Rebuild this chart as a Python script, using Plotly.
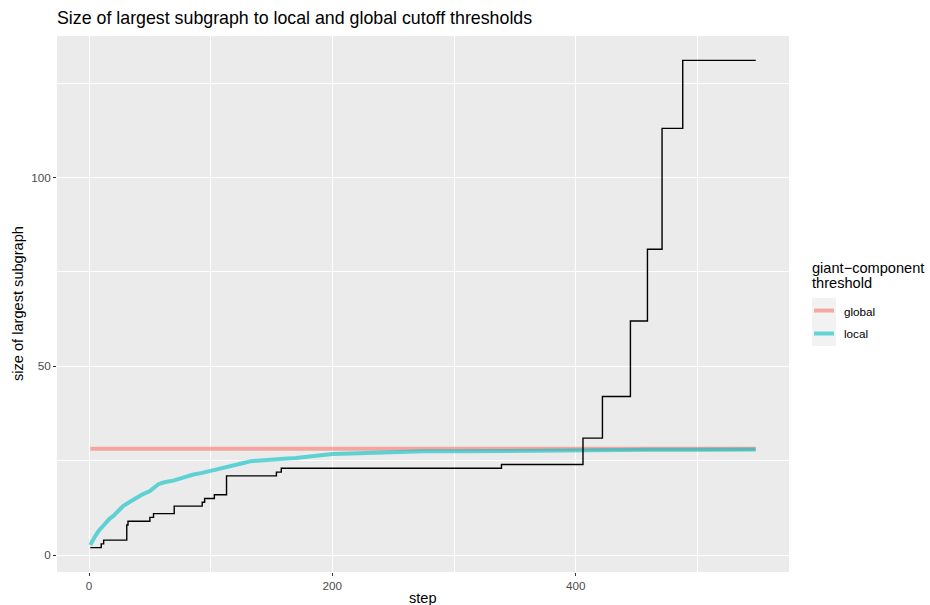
import plotly.graph_objects as go

# Largest connected subgraph size at each step (step function)
largest_step = [1, 10, 12, 31, 32, 50, 53, 70, 93, 95, 103, 113, 154, 158, 339, 406, 422, 445, 459, 471, 488, 548]
largest_size = [2, 3, 4, 8, 9, 10, 11, 13, 14, 15, 16, 21, 22, 23, 24, 31, 42, 62, 81, 113, 131, 131]

# Global giant-component cutoff (constant)
global_step = [1, 548]
global_value = [28.2, 28.2]

# Local giant-component cutoff
local_step = [1, 3, 5, 8, 11, 14, 17, 20, 24, 28, 33, 38, 44, 50, 57, 62, 70, 78, 85, 93,
              100, 108, 113, 120, 127, 133, 140, 150, 160, 170, 180, 190, 200, 215, 230,
              250, 275, 300, 330, 360, 400, 430, 460, 500, 548]
local_value = [2.7, 4.0, 5.0, 6.5, 7.6, 8.6, 9.7, 10.4, 11.8, 13.0, 14.0, 15.0, 16.1, 17.0,
               18.8, 19.3, 19.8, 20.6, 21.3, 21.8, 22.3, 22.8, 23.4, 23.9, 24.4, 24.9, 25.0,
               25.2, 25.5, 25.7, 26.1, 26.6, 26.8, 26.9, 27.1, 27.3, 27.5, 27.5, 27.6, 27.7,
               27.7, 27.8, 27.9, 27.9, 28.0]

x_ticks = [0, 200, 400]
y_ticks = [0, 50, 100]

GLOBAL_COL = "rgba(248,118,109,0.6)"
LOCAL_COL = "rgba(0,191,196,0.6)"
FONT = "Liberation Sans, Arial, sans-serif"

W, H = 930, 605
L, R, T, B = 57, 141, 36, 33


def expand(lo, hi, f=0.05):
    d = (hi - lo) * f
    return [lo - d, hi + d]


all_x = largest_step + global_step + local_step
all_y = largest_size + global_value + local_value

fig = go.Figure()
fig.add_trace(go.Scatter(x=global_step, y=global_value, mode="lines",
                         line=dict(color=GLOBAL_COL, width=4), hoverinfo="skip"))
fig.add_trace(go.Scatter(x=local_step, y=local_value, mode="lines",
                         line=dict(color=LOCAL_COL, width=4), hoverinfo="skip"))
fig.add_trace(go.Scatter(x=largest_step, y=largest_size, mode="lines",
                         line=dict(color="black", width=1.4, shape="hv"), hoverinfo="skip"))

axis_common = dict(
    showgrid=True, gridcolor="white", gridwidth=1.3,
    zeroline=False, showline=False,
    ticks="outside", ticklen=3, tickwidth=1, tickcolor="#333333",
    tickfont=dict(family=FONT, size=11.7, color="#4D4D4D"),
)

fig.update_layout(
    width=W, height=H,
    margin=dict(l=L, r=R, t=T, b=B, pad=0),
    paper_bgcolor="white", plot_bgcolor="#EBEBEB",
    showlegend=False,
    font=dict(family=FONT, color="black"),
    title=dict(text="Size of largest subgraph to local and global cutoff thresholds",
               xref="container", yref="container", x=L / W, xanchor="left",
               y=1 - 18 / H, yanchor="middle",
               font=dict(size=17.8, color="black")),
    xaxis=dict(axis_common, range=expand(min(all_x), max(all_x)),
               tickvals=x_ticks, ticktext=[str(v) for v in x_ticks],
               minor=dict(showgrid=True, gridcolor="white", gridwidth=0.6,
                          tickvals=[100, 300, 500], ticks="")),
    yaxis=dict(axis_common, range=expand(min(all_y), max(all_y)),
               tickvals=y_ticks, ticktext=[str(v) for v in y_ticks],
               minor=dict(showgrid=True, gridcolor="white", gridwidth=0.6,
                          tickvals=[25, 75, 125], ticks="")),
)

pw, ph = W - L - R, H - T - B


def px(xp):
    return (xp - L) / pw


def py(yp):
    return (H - B - yp) / ph


def label(text, x, y, size, **kw):
    d = dict(text=text, x=px(x), y=py(y), xref="paper", yref="paper",
             showarrow=False, font=dict(size=size), xanchor="left", yanchor="middle")
    d.update(kw)
    return d


ann = [
    label("step", (L + W - R) / 2, 598, 14.6, xanchor="center"),
    label("size of largest subgraph", 18, (T + H - B) / 2, 14.6,
          xanchor="center", textangle=-90),
    label("giant\u2212component", 810, 268, 14.6),
    label("threshold", 810, 283, 14.6),
    label("global", 842, 311, 11.7),
    label("local", 842, 333, 11.7),
]

shapes = [
    dict(type="rect", xref="paper", yref="paper", x0=px(812), x1=px(836),
         y0=py(298), y1=py(346), fillcolor="#F2F2F2", line=dict(width=0), layer="below"),
    dict(type="line", xref="paper", yref="paper", x0=px(814), x1=px(834),
         y0=py(310.5), y1=py(310.5), line=dict(color=GLOBAL_COL, width=4)),
    dict(type="line", xref="paper", yref="paper", x0=px(814), x1=px(834),
         y0=py(333.5), y1=py(333.5), line=dict(color=LOCAL_COL, width=4)),
]

fig.update_layout(annotations=ann, shapes=shapes)
fig.write_html("out.html")
